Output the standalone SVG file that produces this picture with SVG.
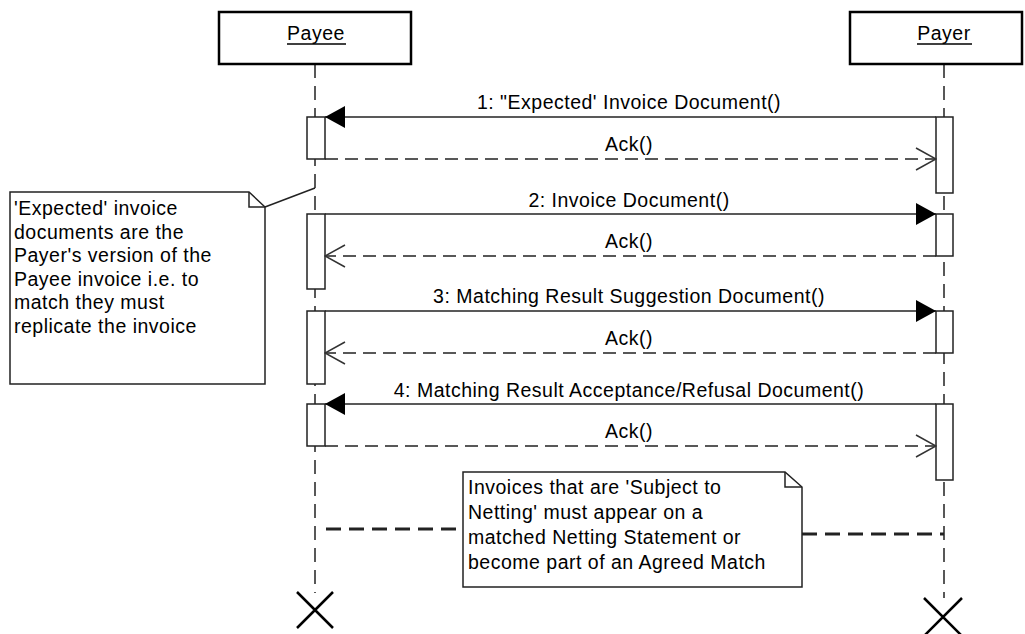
<svg xmlns="http://www.w3.org/2000/svg" width="1025" height="634" viewBox="0 0 1025 634">
<defs>
<style>
text{font-family:"Liberation Sans",Arial,sans-serif;font-size:19.5px;letter-spacing:0.5px;fill:#000}
.lbl{text-anchor:middle}
.box{fill:#fff;stroke:#000;stroke-width:2.5}
.act{fill:#fff;stroke:#222;stroke-width:1.5}
.life{stroke:#222;stroke-width:1.5;stroke-dasharray:14 8;fill:none}
.msg{stroke:#222;stroke-width:1.5;fill:none}
.ret{stroke:#222;stroke-width:1.5;stroke-dasharray:13 7;fill:none}
.note{fill:#fff;stroke:#222;stroke-width:1.5}
.nlink{stroke:#222;stroke-width:3;stroke-dasharray:15 8;fill:none}
.x{stroke:#000;stroke-width:2.5;fill:none}
</style>
<marker id="filled" viewBox="0 0 20 22" refX="20" refY="11" markerWidth="20" markerHeight="22" markerUnits="userSpaceOnUse" orient="auto">
<path d="M0,0 L20,11 L0,22 Z" fill="#000"/>
</marker>
<marker id="open" viewBox="0 0 22 24" refX="21" refY="12" markerWidth="22" markerHeight="24" markerUnits="userSpaceOnUse" orient="auto">
<path d="M1,1 L21,12 L1,23" fill="none" stroke="#333" stroke-width="1.5"/>
</marker>
</defs>
<rect width="1025" height="634" fill="#fff"/>

<g id="lifelines">
<line class="life" x1="315" y1="64" x2="315" y2="593"/>
<line class="life" x1="944" y1="64" x2="944" y2="598"/>
</g>

<g id="payee">
<rect class="box" x="219" y="12" width="192" height="52"/>
<text class="lbl" x="316" y="40">Payee</text>
<line x1="287" y1="44" x2="346" y2="44" stroke="#000" stroke-width="1.5"/>
</g>
<g id="payer">
<rect class="box" x="850" y="12" width="172" height="52"/>
<text class="lbl" x="944" y="40">Payer</text>
<line x1="917" y1="44" x2="972" y2="44" stroke="#000" stroke-width="1.5"/>
</g>

<g id="activations">
<rect class="act" x="307" y="117" width="18" height="42"/>
<rect class="act" x="936" y="117" width="17" height="76"/>
<rect class="act" x="307" y="214" width="18" height="75"/>
<rect class="act" x="936" y="214" width="17" height="42"/>
<rect class="act" x="307" y="311" width="18" height="73"/>
<rect class="act" x="936" y="311" width="17" height="42"/>
<rect class="act" x="307" y="404" width="18" height="42"/>
<rect class="act" x="936" y="404" width="17" height="76"/>
</g>

<g id="connectors">
<line class="msg" x1="936" y1="117" x2="325" y2="117" marker-end="url(#filled)"/>
<text class="lbl" x="629" y="109">1: "Expected' Invoice Document()</text>
<line class="ret" x1="325" y1="159" x2="936" y2="159" marker-end="url(#open)"/>
<text class="lbl" x="629" y="151">Ack()</text>

<line class="msg" x1="325" y1="214" x2="936" y2="214" marker-end="url(#filled)"/>
<text class="lbl" x="629" y="207">2: Invoice Document()</text>
<line class="ret" x1="936" y1="256" x2="325" y2="256" marker-end="url(#open)"/>
<text class="lbl" x="629" y="248">Ack()</text>

<line class="msg" x1="325" y1="311" x2="936" y2="311" marker-end="url(#filled)"/>
<text class="lbl" x="629" y="303">3: Matching Result Suggestion Document()</text>
<line class="ret" x1="936" y1="353" x2="325" y2="353" marker-end="url(#open)"/>
<text class="lbl" x="629" y="345">Ack()</text>

<line class="msg" x1="936" y1="404" x2="325" y2="404" marker-end="url(#filled)"/>
<text class="lbl" x="629" y="397">4: Matching Result Acceptance/Refusal Document()</text>
<line class="ret" x1="325" y1="446" x2="936" y2="446" marker-end="url(#open)"/>
<text class="lbl" x="629" y="438">Ack()</text>

<line x1="265" y1="207" x2="315" y2="188" stroke="#222" stroke-width="1.5"/>
<line class="nlink" x1="326" y1="529" x2="463" y2="529"/>
<line class="nlink" x1="802" y1="534" x2="944" y2="534"/>
</g>

<g id="note1">
<path class="note" d="M10,192 L249,192 L265,207 L265,384 L10,384 Z"/>
<path d="M249,192 L249,207 L265,207" fill="none" stroke="#222" stroke-width="1.5"/>
<text x="14" y="215">'Expected' invoice</text>
<text x="14" y="238.5">documents are the</text>
<text x="14" y="262">Payer's version of the</text>
<text x="14" y="285.5">Payee invoice i.e. to</text>
<text x="14" y="309">match they must</text>
<text x="14" y="332.5">replicate the invoice</text>
</g>

<g id="note2">
<path class="note" d="M463,472 L785,472 L802,487 L802,587 L463,587 Z"/>
<path d="M785,472 L785,487 L802,487" fill="none" stroke="#222" stroke-width="1.5"/>
<text x="468" y="494">Invoices that are 'Subject to</text>
<text x="468" y="519">Netting' must appear on a</text>
<text x="468" y="544">matched Netting Statement or</text>
<text x="468" y="569">become part of an Agreed Match</text>
</g>

<g id="destroy-payee">
<path class="x" d="M297,592 L333,628 M333,592 L297,628"/>
</g>
<g id="destroy-payer">
<path class="x" d="M924,598 L962,636 M962,598 L924,636"/>
</g>
</svg>
